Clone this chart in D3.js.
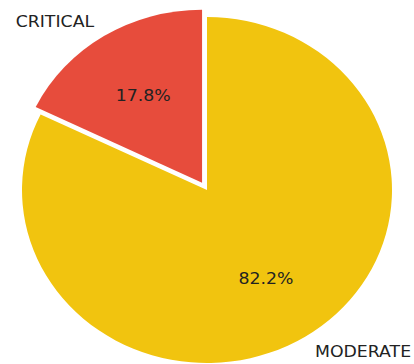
<!DOCTYPE html>
<html>
<head>
<meta charset="utf-8">
<script src="https://cdn.jsdelivr.net/npm/d3@7"></script>
<style>
  body { margin: 0; background: #fff; }
  text { font-family: "DejaVu Sans", sans-serif; }
</style>
</head>
<body>
<svg width="414" height="364"></svg>
<script>
const LABELS = ['CRITICAL', 'MODERATE'];
const SHARES = [17.8, 82.2];
const COLORS = ['#e74c3c', '#f1c40f'];
const EXPLODE = [0.05, 0];

// pie is a bit squashed vertically in the picture
const cx = 207, cy = 190, rx = 185, ry = 173;
const sx = rx / ry;

const data = LABELS.map((d, i) => ({ label: d, value: SHARES[i], color: COLORS[i], explode: EXPLODE[i] }));

// counter-clockwise from 12 o'clock, like matplotlib startangle=90
const pie = d3.pie().sort(null).value(d => d.value).startAngle(0).endAngle(-2 * Math.PI);
const arc = d3.arc().innerRadius(0).outerRadius(ry);

const svg = d3.select('svg');
const g = svg.append('g').attr('transform', `translate(${cx},${cy}) scale(${sx},1)`);

const slices = pie(data);
const mid = d => (d.startAngle + d.endAngle) / 2;

g.selectAll('.slice')
  .data(slices)
  .enter()
  .append('path')
  .classed('slice', true)
  .attr('d', arc)
  .attr('fill', d => d.data.color)
  .attr('transform', d => {
    const off = d.data.explode * ry;
    return `translate(${Math.sin(mid(d)) * off},${-Math.cos(mid(d)) * off})`;
  });

// point at fraction f of radius, in page coords
const pt = (d, f) => [cx + Math.sin(mid(d)) * f * rx, cy - Math.cos(mid(d)) * f * ry];

svg.selectAll('.lbl')
  .data(slices)
  .enter()
  .append('text')
  .classed('lbl', true)
  .attr('transform', d => {
    const p = pt(d, 1.1 + d.data.explode);
    return `translate(${p[0]},${p[1]}) scale(1.05,1)`;
  })
  .attr('text-anchor', d => Math.sin(mid(d)) < 0 ? 'end' : 'start')
  .attr('dy', '0.36em')
  .attr('font-size', 16.5)
  .attr('fill', '#222')
  .text(d => d.data.label);

svg.selectAll('.pct')
  .data(slices)
  .enter()
  .append('text')
  .classed('pct', true)
  .attr('transform', d => {
    const p = pt(d, 0.6 + d.data.explode);
    return `translate(${p[0]},${p[1]}) scale(1.05,1)`;
  })
  .attr('text-anchor', 'middle')
  .attr('dy', '0.36em')
  .attr('font-size', 16.5)
  .attr('fill', '#222')
  .text(d => d.data.value.toFixed(1) + '%');
</script>
</body>
</html>
